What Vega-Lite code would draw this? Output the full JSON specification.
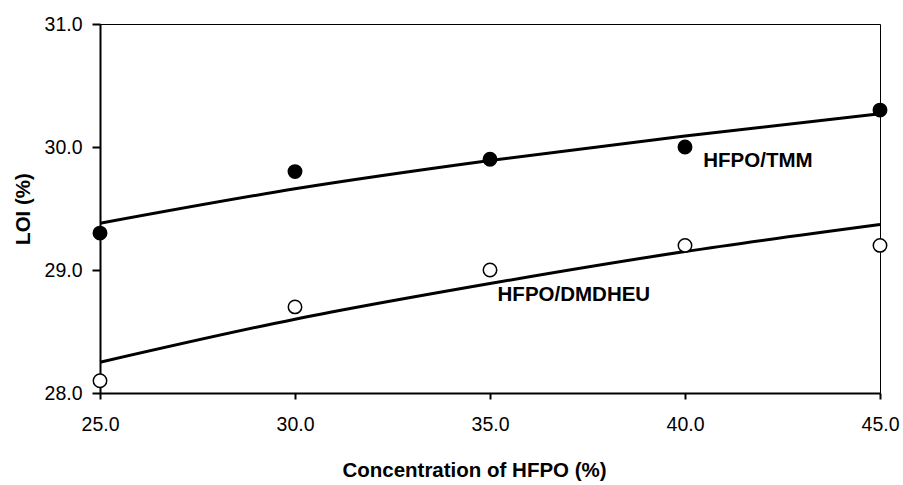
{
  "$schema": "https://vega.github.io/schema/vega-lite/v6.json",
  "width": 780,
  "height": 369,
  "autosize": {"type": "none"},
  "padding": {"left": 100, "top": 24, "right": 23, "bottom": 92},
  "background": "white",
  "config": {
    "view": {"stroke": "black", "strokeWidth": 1},
    "font": "Liberation Sans",
    "axis": {
      "grid": false,
      "domainColor": "black",
      "domainWidth": 2,
      "tickColor": "black",
      "tickWidth": 2,
      "labelFont": "Liberation Sans",
      "labelFontSize": 19.5,
      "labelColor": "black",
      "labelFlush": false,
      "titleFont": "Liberation Sans",
      "titleFontSize": 20.5,
      "titleFontWeight": "bold",
      "titleColor": "black"
    }
  },
  "datasets": {
    "points": [
      {"conc": 25, "loi": 29.3, "series": "HFPO/TMM"},
      {"conc": 30, "loi": 29.8, "series": "HFPO/TMM"},
      {"conc": 35, "loi": 29.9, "series": "HFPO/TMM"},
      {"conc": 40, "loi": 30.0, "series": "HFPO/TMM"},
      {"conc": 45, "loi": 30.3, "series": "HFPO/TMM"},
      {"conc": 25, "loi": 28.1, "series": "HFPO/DMDHEU"},
      {"conc": 30, "loi": 28.7, "series": "HFPO/DMDHEU"},
      {"conc": 35, "loi": 29.0, "series": "HFPO/DMDHEU"},
      {"conc": 40, "loi": 29.2, "series": "HFPO/DMDHEU"},
      {"conc": 45, "loi": 29.2, "series": "HFPO/DMDHEU"}
    ],
    "fits": [
      {"conc": 25, "loi": 29.38, "series": "HFPO/TMM"},
      {"conc": 30, "loi": 29.66, "series": "HFPO/TMM"},
      {"conc": 35, "loi": 29.89, "series": "HFPO/TMM"},
      {"conc": 40, "loi": 30.09, "series": "HFPO/TMM"},
      {"conc": 45, "loi": 30.27, "series": "HFPO/TMM"},
      {"conc": 25, "loi": 28.25, "series": "HFPO/DMDHEU"},
      {"conc": 30, "loi": 28.60, "series": "HFPO/DMDHEU"},
      {"conc": 35, "loi": 28.89, "series": "HFPO/DMDHEU"},
      {"conc": 40, "loi": 29.15, "series": "HFPO/DMDHEU"},
      {"conc": 45, "loi": 29.37, "series": "HFPO/DMDHEU"}
    ],
    "labels": [
      {"conc": 41.87, "loi": 29.89, "text": "HFPO/TMM"},
      {"conc": 37.15, "loi": 28.8, "text": "HFPO/DMDHEU"}
    ]
  },
  "layer": [
    {
      "data": {"name": "fits"},
      "mark": {"type": "line", "color": "black", "strokeWidth": 3, "interpolate": "monotone"},
      "encoding": {
        "x": {
          "field": "conc", "type": "quantitative",
          "scale": {"domain": [25, 45], "nice": false, "zero": false},
          "axis": {"values": [25, 30, 35, 40, 45], "format": ".1f", "tickSize": 6, "labelPadding": 16, "title": "Concentration of HFPO (%)", "titlePadding": 27, "titleX": 374}
        },
        "y": {
          "field": "loi", "type": "quantitative",
          "scale": {"domain": [28, 31], "nice": false, "zero": false},
          "axis": {"values": [28, 29, 30, 31], "format": ".1f", "tickSize": 8, "labelPadding": 10, "title": "LOI (%)", "titlePadding": 11}
        },
        "detail": {"field": "series"}
      }
    },
    {
      "data": {"name": "points"},
      "mark": {"type": "circle", "size": 180, "stroke": "black", "strokeWidth": 1.5, "opacity": 1},
      "encoding": {
        "x": {"field": "conc", "type": "quantitative"},
        "y": {"field": "loi", "type": "quantitative"},
        "fill": {
          "field": "series", "type": "nominal",
          "scale": {"domain": ["HFPO/TMM", "HFPO/DMDHEU"], "range": ["black", "white"]},
          "legend": null
        }
      }
    },
    {
      "data": {"name": "labels"},
      "mark": {"type": "text", "font": "Liberation Sans", "fontSize": 20.5, "fontWeight": "bold", "color": "black", "align": "center", "baseline": "middle"},
      "encoding": {
        "x": {"field": "conc", "type": "quantitative"},
        "y": {"field": "loi", "type": "quantitative"},
        "text": {"field": "text"}
      }
    }
  ]
}
